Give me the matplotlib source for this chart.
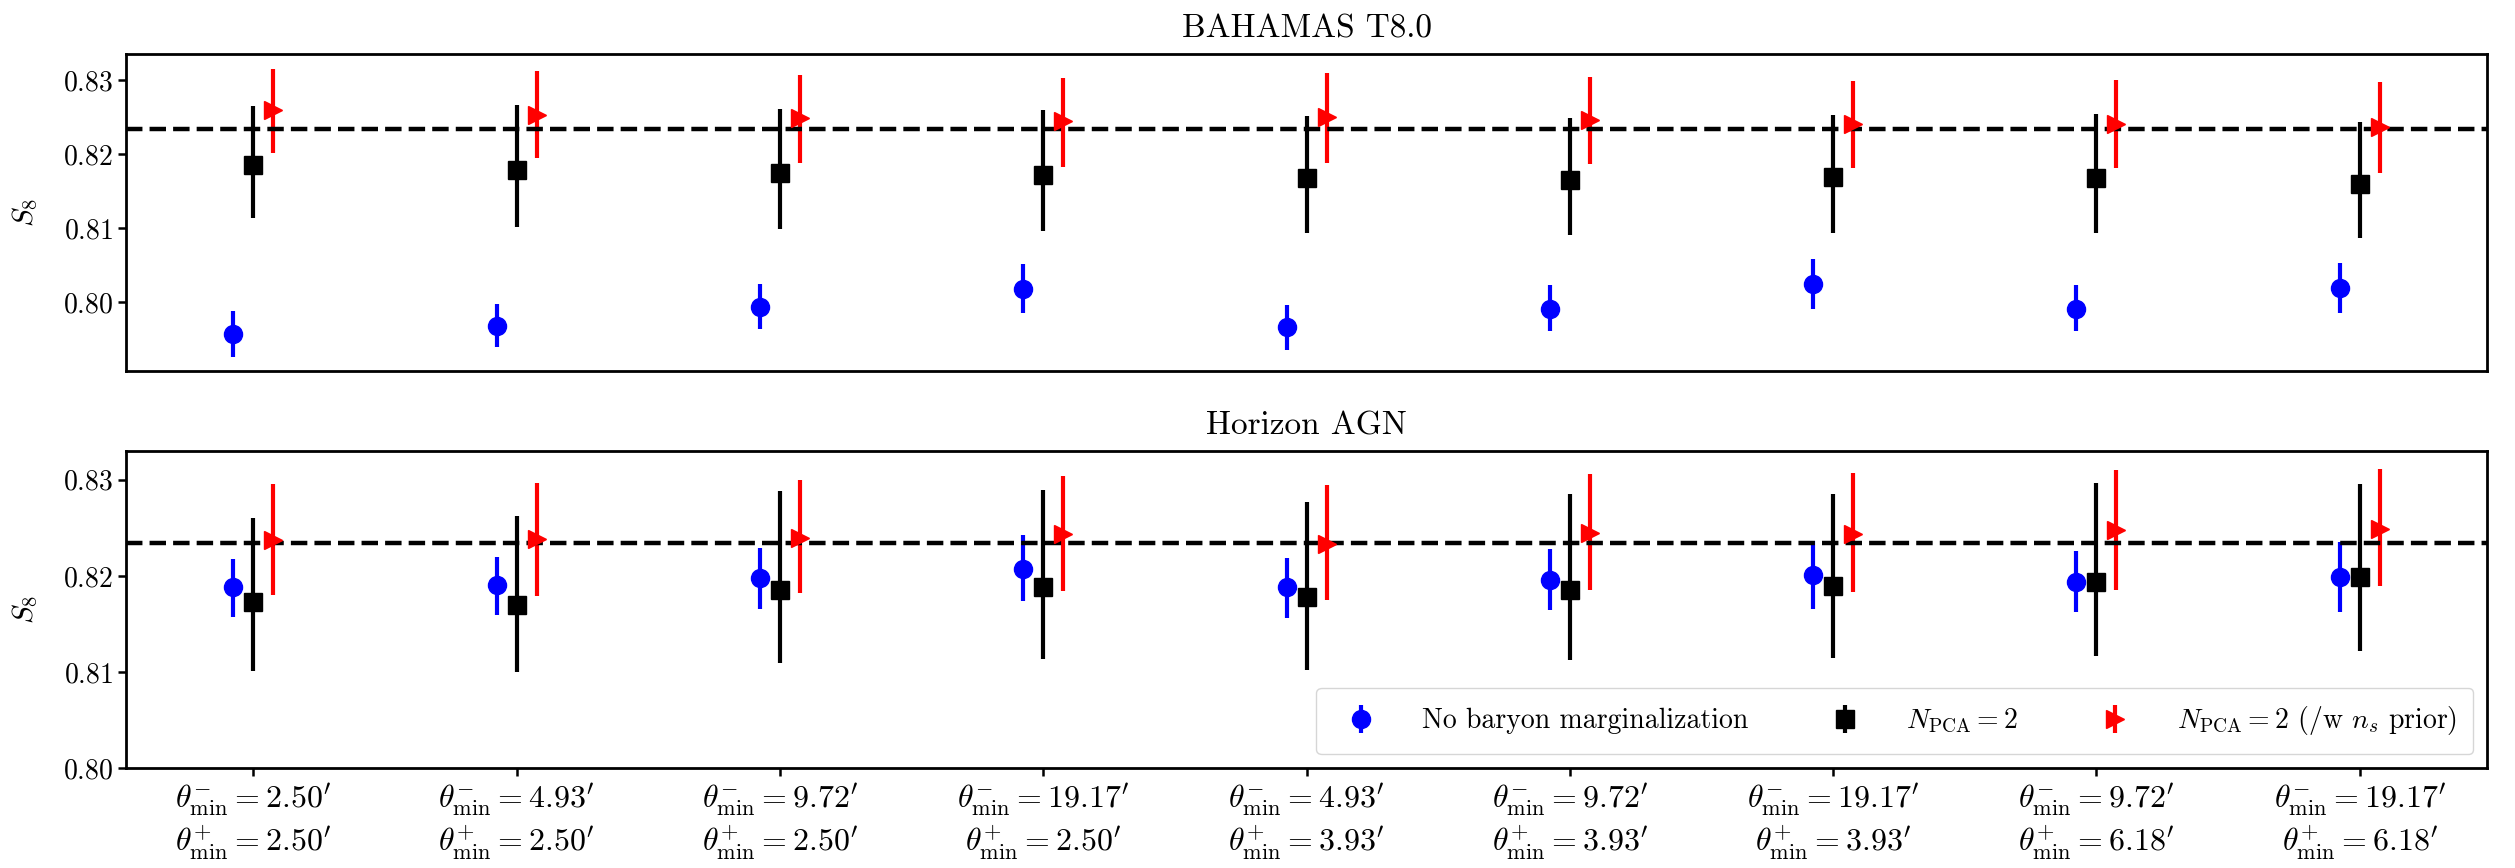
import numpy as np
import matplotlib
matplotlib.use("Agg")
import matplotlib.pyplot as plt

plt.rcParams["font.family"] = "serif"
plt.rcParams["font.serif"] = ["cmr10", "DejaVu Serif"]
plt.rcParams["mathtext.fontset"] = "cm"
plt.rcParams["axes.formatter.use_mathtext"] = True
plt.rcParams["axes.unicode_minus"] = False

# scale cut configurations (theta_min^-, theta_min^+) in arcmin
theta_minus = ["2.50", "4.93", "9.72", "19.17", "4.93", "9.72", "19.17", "9.72", "19.17"]
theta_plus = ["2.50", "2.50", "2.50", "2.50", "3.93", "3.93", "3.93", "6.18", "6.18"]

s8_fiducial = 0.8234

# BAHAMAS T8.0: central S8 and lower/upper bounds
bah_none = [0.7957, 0.7968, 0.7994, 0.8018, 0.7967, 0.7991, 0.8024, 0.7991, 0.8019]
bah_none_lo = [0.7926, 0.7939, 0.7964, 0.7986, 0.7936, 0.7961, 0.7991, 0.7961, 0.7986]
bah_none_hi = [0.7988, 0.7998, 0.8024, 0.8051, 0.7996, 0.8023, 0.8058, 0.8023, 0.8053]

bah_pca = [0.8185, 0.8178, 0.8175, 0.8172, 0.8167, 0.8165, 0.8169, 0.8168, 0.8160]
bah_pca_lo = [0.8114, 0.8102, 0.8099, 0.8096, 0.8094, 0.8090, 0.8093, 0.8093, 0.8087]
bah_pca_hi = [0.8265, 0.8266, 0.8261, 0.8259, 0.8251, 0.8249, 0.8253, 0.8254, 0.8243]

bah_ns = [0.8259, 0.8253, 0.8248, 0.8244, 0.8250, 0.8246, 0.8240, 0.8241, 0.8236]
bah_ns_lo = [0.8201, 0.8194, 0.8188, 0.8183, 0.8188, 0.8186, 0.8181, 0.8181, 0.8175]
bah_ns_hi = [0.8315, 0.8312, 0.8306, 0.8302, 0.8309, 0.8304, 0.8298, 0.8300, 0.8297]

# Horizon AGN
hzn_none = [0.8188, 0.8190, 0.8198, 0.8207, 0.8188, 0.8196, 0.8201, 0.8194, 0.8199]
hzn_none_lo = [0.8157, 0.8159, 0.8166, 0.8174, 0.8156, 0.8164, 0.8166, 0.8162, 0.8162]
hzn_none_hi = [0.8218, 0.8220, 0.8229, 0.8242, 0.8219, 0.8228, 0.8236, 0.8226, 0.8235]

hzn_pca = [0.8173, 0.8170, 0.8185, 0.8188, 0.8178, 0.8185, 0.8189, 0.8194, 0.8199]
hzn_pca_lo = [0.8101, 0.8100, 0.8109, 0.8113, 0.8102, 0.8112, 0.8115, 0.8117, 0.8122]
hzn_pca_hi = [0.8260, 0.8262, 0.8288, 0.8289, 0.8277, 0.8285, 0.8285, 0.8297, 0.8296]

hzn_ns = [0.8237, 0.8238, 0.8239, 0.8244, 0.8233, 0.8245, 0.8244, 0.8248, 0.8249]
hzn_ns_lo = [0.8180, 0.8179, 0.8182, 0.8184, 0.8175, 0.8185, 0.8183, 0.8185, 0.8189]
hzn_ns_hi = [0.8296, 0.8297, 0.8300, 0.8304, 0.8295, 0.8306, 0.8307, 0.8310, 0.8311]

labels = ["No baryon marginalization",
          r"$N_{\rm PCA} = 2$",
          r"$N_{\rm PCA} = 2$ (/w $n_s$ prior)"]

xlabels = [r"$\theta^{-}_{\rm min} = %s^{\prime}$" % m + "\n" +
           r"$\theta^{+}_{\rm min} = %s^{\prime}$" % p
           for m, p in zip(theta_minus, theta_plus)]

x = np.arange(len(theta_minus))
dx = 0.076


def yerr(c, lo, hi):
    c, lo, hi = map(np.asarray, (c, lo, hi))
    return np.vstack([c - lo, hi - c])


fig, axes = plt.subplots(2, 1, figsize=(25.15, 8.68), dpi=100, sharex=True)
fig.subplots_adjust(left=0.0501, right=0.9889, top=0.9378, bottom=0.1152, hspace=0.252)

panels = [
    ("BAHAMAS T8.0", (bah_none, bah_none_lo, bah_none_hi),
     (bah_pca, bah_pca_lo, bah_pca_hi), (bah_ns, bah_ns_lo, bah_ns_hi)),
    ("Horizon AGN", (hzn_none, hzn_none_lo, hzn_none_hi),
     (hzn_pca, hzn_pca_lo, hzn_pca_hi), (hzn_ns, hzn_ns_lo, hzn_ns_hi)),
]

ms = 13
lw = 3.0
for ax, (title, none, pca, ns) in zip(axes, panels):
    ax.errorbar(x - dx, none[0], yerr=yerr(*none), fmt="o", color="blue",
                ms=ms, elinewidth=lw, label=labels[0])
    ax.errorbar(x, pca[0], yerr=yerr(*pca), fmt="s", color="black",
                ms=ms, elinewidth=lw, label=labels[1])
    ax.errorbar(x + dx, ns[0], yerr=yerr(*ns), fmt=">", color="red",
                ms=ms, elinewidth=lw, label=labels[2])
    ax.axhline(s8_fiducial, color="black", ls="--", lw=3.2)
    ax.set_title(title, fontsize=24, pad=12)
    ax.set_ylabel(r"$S_8$", fontsize=21, labelpad=16)
    ax.tick_params(axis="y", labelsize=20, width=1.8, length=6)
    for sp in ax.spines.values():
        sp.set_linewidth(2.0)

axes[0].set_ylim(0.7907, 0.8335)
axes[0].set_yticks([0.80, 0.81, 0.82, 0.83])
axes[1].set_ylim(0.80, 0.8330)
axes[1].set_yticks([0.80, 0.81, 0.82, 0.83])

axes[0].tick_params(axis="x", bottom=False, labelbottom=False)
axes[1].set_xticks(x)
axes[1].set_xticklabels(xlabels)
axes[1].tick_params(axis="x", labelsize=23, width=1.8, length=6)

axes[1].legend(loc="lower right", ncol=3, fontsize=20, framealpha=0.8,
               borderpad=0.6, columnspacing=2.5, handletextpad=1.2)

fig.savefig("out.png", dpi=100)
